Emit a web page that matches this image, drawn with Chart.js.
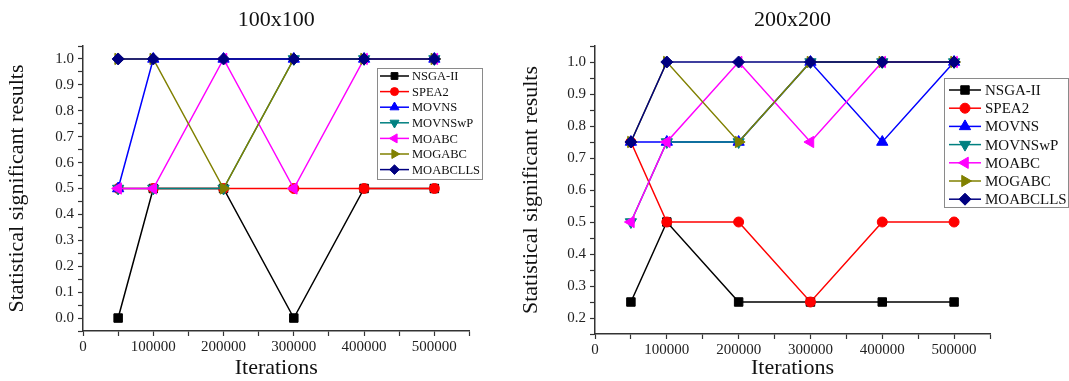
<!DOCTYPE html>
<html>
<head>
<meta charset="utf-8">
<script src="https://cdn.jsdelivr.net/npm/chart.js@4.4.0/dist/chart.umd.min.js"></script>
<style>
body { margin: 0; background: #fff; width: 1069px; height: 381px; position: relative; overflow: hidden; }
.box { position: absolute; top: 0; height: 381px; }
#left { left: 0; width: 505px; }
#right { left: 505px; width: 564px; }
</style>
</head>
<body>
<div class="box" id="left"><canvas id="chart100"></canvas></div>
<div class="box" id="right"><canvas id="chart200"></canvas></div>
<script>
// iterations on the x axis
var iterations = [50000, 100000, 200000, 300000, 400000, 500000];
var names = ['NSGA-II', 'SPEA2', 'MOVNS', 'MOVNSwP', 'MOABC', 'MOGABC', 'MOABCLLS'];

// 100x100 instance
var nsga_100 = [0, 0.5, 0.5, 0, 0.5, 0.5];
var spea2_100 = [0.5, 0.5, 0.5, 0.5, 0.5, 0.5];
var movns_100 = [0.5, 1, 1, 1, 1, 1];
var movnswp_100 = [0.5, 0.5, 0.5, 1, 1, 1];
var moabc_100 = [0.5, 0.5, 1, 0.5, 1, 1];
var mogabc_100 = [1, 1, 0.5, 1, 1, 1];
var moabclls_100 = [1, 1, 1, 1, 1, 1];

// 200x200 instance
var nsga_200 = [0.25, 0.5, 0.25, 0.25, 0.25, 0.25];
var spea2_200 = [0.75, 0.5, 0.5, 0.25, 0.5, 0.5];
var movns_200 = [0.75, 0.75, 0.75, 1, 0.75, 1];
var movnswp_200 = [0.5, 0.75, 0.75, 1, 1, 1];
var moabc_200 = [0.5, 0.75, 1, 0.75, 1, 1];
var mogabc_200 = [0.75, 1, 0.75, 1, 1, 1];
var moabclls_200 = [0.75, 1, 1, 1, 1, 1];

// look of each series
var colors = ['#000000', '#ff0000', '#0000ff', '#008080', '#ff00ff', '#808000', '#000080'];
var shapes = ['rect', 'circle', 'triangle', 'triangle', 'triangle', 'triangle', 'rectRot'];
var turns = [0, 0, 0, 180, -90, 90, 0];
var sizes = [6, 5, 6.5, 6.5, 6.5, 6.5, 6];

var serif = "'Liberation Serif', 'Times New Roman', serif";

// legend box drawn inside the plot, line + marker + name
var boxLegend = {
    id: 'boxLegend',
    afterDraw: function(chart, args, o) {
        var ctx = chart.ctx;
        ctx.save();
        ctx.fillStyle = '#fff';
        ctx.fillRect(o.x, o.y, o.w, o.h);
        ctx.strokeStyle = '#8a8a8a';
        ctx.lineWidth = 1;
        ctx.strokeRect(o.x + 0.5, o.y + 0.5, o.w, o.h);
        chart.data.datasets.forEach(function(ds, i) {
            var y = o.row0 + i * o.step;
            ctx.strokeStyle = ds.borderColor;
            ctx.lineWidth = 1.5;
            ctx.beginPath();
            ctx.moveTo(o.line0, y);
            ctx.lineTo(o.line1, y);
            ctx.stroke();
            ctx.fillStyle = ds.borderColor;
            ctx.lineWidth = 1;
            Chart.helpers.drawPoint(ctx, {
                pointStyle: ds.pointStyle,
                rotation: ds.pointRotation,
                radius: ds.pointRadius * o.scale,
                borderWidth: 1
            }, (o.line0 + o.line1) / 2, y);
            ctx.fillStyle = '#111';
            ctx.font = o.font + 'px ' + serif;
            ctx.textAlign = 'left';
            ctx.textBaseline = 'middle';
            ctx.fillText(ds.label, o.text, y + 1);
        });
        ctx.restore();
    }
};

function make_sets(series) {
    return series.map(function(vals, i) {
        return {
            label: names[i],
            data: iterations.map(function(x, k) { return {x: x, y: vals[k]}; }),
            borderColor: colors[i],
            backgroundColor: colors[i],
            pointBackgroundColor: colors[i],
            pointBorderColor: colors[i],
            pointStyle: shapes[i],
            pointRotation: turns[i],
            pointRadius: sizes[i],
            pointBorderWidth: 1,
            borderWidth: 1.5,
            tension: 0,
            fill: false,
            order: series.length - 1 - i
        };
    });
}

function grafico(id, title, series, ymin, yw, xh, padRight, ytitlePad, legend) {
    var ctx = document.getElementById(id).getContext('2d');
    var myChart = new Chart(ctx, {
        type: 'line',
        data: { datasets: make_sets(series) },
        options: {
            responsive: true,
            maintainAspectRatio: false,
            animation: false,
            layout: { padding: { left: 0, right: padRight, top: 0, bottom: 0 } },
            plugins: {
                legend: { display: false },
                tooltip: { enabled: false },
                title: {
                    display: true,
                    text: title,
                    fullSize: false,
                    color: '#111',
                    font: { family: serif, size: 22, weight: 'normal' },
                    padding: { top: 7, bottom: 12.6 }
                },
                boxLegend: legend
            },
            scales: {
                x: {
                    type: 'linear',
                    min: 0,
                    max: 550000,
                    border: { display: true, color: '#333', width: 1.5 },
                    grid: { display: true, drawOnChartArea: false, drawTicks: true, tickLength: 5, tickColor: '#333', tickWidth: 1.2 },
                    ticks: {
                        stepSize: 50000,
                        autoSkip: false,
                        maxRotation: 0,
                        padding: 2,
                        color: '#222',
                        font: { family: serif, size: 15 },
                        callback: function(v) { return v % 100000 === 0 ? String(v) : ''; }
                    },
                    title: {
                        display: true,
                        text: 'Iterations',
                        color: '#111',
                        font: { family: serif, size: 22 },
                        padding: { top: 0, bottom: 0 }
                    },
                    afterFit: function(s) { s.height = xh; }
                },
                y: {
                    type: 'linear',
                    min: ymin,
                    max: 1.05,
                    border: { display: true, color: '#333', width: 1.5 },
                    grid: { display: true, drawOnChartArea: false, drawTicks: true, tickLength: 5, tickColor: '#333', tickWidth: 1.2 },
                    ticks: {
                        stepSize: 0.05,
                        autoSkip: false,
                        padding: 4,
                        color: '#222',
                        font: { family: serif, size: 15 },
                        callback: function(v) { return Math.round(v * 20) % 2 === 0 ? v.toFixed(1) : ''; }
                    },
                    title: {
                        display: true,
                        text: 'Statistical significant results',
                        color: '#111',
                        font: { family: serif, size: 22 },
                        padding: { top: ytitlePad, bottom: 0 }
                    },
                    afterFit: function(s) { s.width = yw; }
                }
            }
        },
        plugins: [boxLegend]
    });
    return myChart;
}

grafico('chart100', '100x100',
    [nsga_100, spea2_100, movns_100, movnswp_100, moabc_100, mogabc_100, moabclls_100],
    -0.05, 83, 50, 35.5, 4,
    { x: 377, y: 68, w: 105, h: 111, row0: 76, step: 15.6, line0: 380, line1: 409, text: 412, font: 12.5, scale: 0.8 });

grafico('chart200', '200x200',
    [nsga_200, spea2_200, movns_200, movnswp_200, moabc_200, mogabc_200, moabclls_200],
    0.15, 90, 47, 79, 12.8,
    { x: 439, y: 78, w: 124, h: 129, row0: 90, step: 18.2, line0: 444, line1: 476, text: 480, font: 15, scale: 1 });
</script>
</body>
</html>
